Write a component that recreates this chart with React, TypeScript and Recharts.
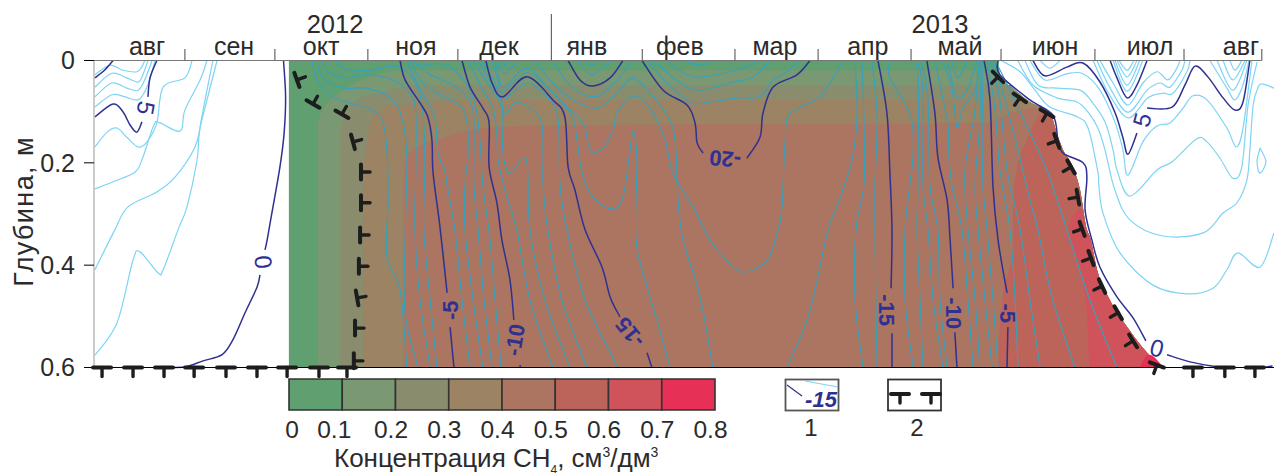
import React from "react";
import {
  Area,
  Bar,
  BarChart,
  ComposedChart,
  Line,
  ReferenceLine,
  Scatter,
  XAxis,
  YAxis,
} from "recharts";

type Pt = [number, number];

// x is days since 1 Aug 2012, y is depth in metres
const monthTicks = [30.5, 60.7, 91.9, 122.1, 153.5, 184, 215.1, 243, 274.2, 304.4, 335.9, 365.8, 391.9];
const monthCenters = [17.8, 47, 76.2, 108, 135.9, 165.4, 196.6, 228.5, 259.7, 290.6, 322.5, 354.4, 384.9];
const monthNames = ["авг", "сен", "окт", "ноя", "дек", "янв", "фев", "мар", "апр", "май", "июн", "июл", "авг"];
const yearCenters = [80.9, 283.9];
const yearNames = ["2012", "2013"];
const depthTicks = [0, 0.2, 0.4, 0.6];
const concTicks = [0, 0.1, 0.2, 0.3, 0.4, 0.5, 0.6, 0.7, 0.8];
const concColors = ["#5f9f70", "#7a9872", "#8a8c6e", "#9b8363", "#ac7561", "#bc6459", "#d0535b", "#e63055"];

// right edge of the frozen layer
const thawEdge: Pt[] = [
  [304, 0.032], [308.4, 0.054], [314.1, 0.081], [320.8, 0.103], [323.1, 0.142], [325.2, 0.175],
  [328.5, 0.208], [330.9, 0.253], [333.2, 0.331], [334.2, 0.345], [336.6, 0.409], [340.9, 0.468],
  [346.7, 0.521], [353.4, 0.571], [358.8, 0.6],
];
const edgeFrom = (day: number) => thawEdge.filter((p) => p[0] >= day);

const band0: Pt[] = [[65.4, 0], [303.4, 0], ...edgeFrom(304)];
const band1: Pt[] = [[75.2, 0.116], [76, 0.105], [83.6, 0.058], [92.6, 0.032], [102.7, 0.019], [303.9, 0.019], ...edgeFrom(304)];
const band2: Pt[] = [[82.6, 0.13], [84.5, 0.105], [90, 0.072], [98, 0.06], [110, 0.048], [307.4, 0.048], ...edgeFrom(308.4)];
const band3: Pt[] = [[90.3, 0.214], [91.3, 0.175], [92.6, 0.126], [95, 0.101], [99.3, 0.089], [107, 0.085], [126.2, 0.077], [313.1, 0.077], ...edgeFrom(314.1)];
const band4: Pt[] = [[103.7, 0.253], [104.4, 0.198], [107, 0.175], [115.1, 0.155], [126.2, 0.136], [143, 0.128], [169.8, 0.126], [299, 0.122], [307.4, 0.103], [314.1, 0.093], ...edgeFrom(320.8)];
const band5: Pt[] = [[303.4, 0.56], [305, 0.462], [308.4, 0.364], [308.6, 0.26], [309.7, 0.214], [313.1, 0.155], [318.5, 0.103], ...edgeFrom(320.8)];
const band6: [number, number, number][] = [
  [327, 0.337, 0.337], [328, 0.31, 0.36], [330.9, 0.29, 0.415], [333.2, 0.331, 0.49], [334.2, 0.345, 0.6],
  [336.6, 0.409, 0.6], [340.9, 0.468, 0.6], [346.7, 0.521, 0.6], [353.4, 0.571, 0.6], [358.8, 0.6, 0.6],
];
const band7: [number, number, number][] = [[350.9, 0.6, 0.6], [354, 0.575, 0.6], [358.8, 0.6, 0.6]];

// thick isotherms, split where a label sits on them
const zeroLeftA: Pt[] = [[63.6, 0], [64.3, 0.071], [63.8, 0.142], [62.4, 0.208], [59.7, 0.298], [58.1, 0.351], [57.4, 0.37]];
const zeroLeftB: Pt[] = [[55.7, 0.419], [54.7, 0.443], [50.7, 0.493], [46.6, 0.546], [43, 0.575], [36.6, 0.587], [31.2, 0.598], [26.5, 0.6]];
const fiveTop: Pt[] = [[0.3, 0.034], [3.7, 0.018], [6.4, 0]];
const fiveLeftA: Pt[] = [[0.3, 0.11], [6.4, 0.085], [9.7, 0.1], [12.1, 0.126], [14.4, 0.14], [16.1, 0.12]];
const fiveLeftB: Pt[] = [[18.1, 0.071], [18.8, 0.034], [21.1, 0]];
const minus5A: Pt[] = [[102.7, 0], [104.4, 0.038], [109.4, 0.083], [112, 0.11], [113.4, 0.155], [113.8, 0.22], [116.1, 0.325], [118.5, 0.454]];
const minus5B: Pt[] = [[119.5, 0.521], [120.8, 0.6]];
const minus10A: Pt[] = [[123.5, 0], [126.2, 0.052], [130.5, 0.093], [132.6, 0.122], [132.6, 0.208], [135.2, 0.278], [136.9, 0.351], [139.6, 0.429], [140.9, 0.507]];
const minus10B: Pt[] = [[143, 0.595], [143, 0.6]];
const minus15A: Pt[] = [[131.5, 0], [133.6, 0.044], [137.2, 0.071], [145.3, 0.032], [154, 0.077], [158, 0.11], [159.1, 0.208], [161.4, 0.253], [164.8, 0.331], [170.5, 0.404], [173.2, 0.462], [176.5, 0.501]];
const minus15B: Pt[] = [[185.6, 0.571], [187.2, 0.6]];
const minus20Top: Pt[] = [[159.1, 0], [163.1, 0.038], [167.4, 0.05], [173.2, 0.034], [177.5, 0]];
const minus20A: Pt[] = [[183.9, 0], [191, 0.058], [199, 0.087], [201.7, 0.122], [202.4, 0.161], [204.4, 0.181]];
const minus20B: Pt[] = [[219.1, 0.191], [223.5, 0.15], [224.5, 0.103], [227.9, 0.052], [235.9, 0.028], [240.3, 0]];
const minus15RA: Pt[] = [[263.1, 0], [266.1, 0.103], [267.1, 0.22], [267.8, 0.331], [267.5, 0.445]];
const minus15RB: Pt[] = [[267.8, 0.533], [267.8, 0.6]];
const minus10RA: Pt[] = [[279.5, 0], [282.2, 0.103], [283.2, 0.189], [286.3, 0.273], [287.3, 0.351], [288.3, 0.445]];
const minus10RB: Pt[] = [[288.9, 0.531], [289.6, 0.6]];
const minus5RA: Pt[] = [[298.7, 0], [300.7, 0.077], [301.7, 0.247], [303.4, 0.351], [306.4, 0.454]];
const minus5RB: Pt[] = [[306.7, 0.521], [306.4, 0.6]];
const zeroRightA: Pt[] = [[303.4, 0], [304, 0.028], [314.1, 0.077], [321.8, 0.107], [323.5, 0.155], [325.2, 0.181], [331.9, 0.2], [333.2, 0.228], [332.6, 0.292], [334.9, 0.351], [337.6, 0.404], [343.3, 0.462], [348.7, 0.503], [353, 0.548]];
const zeroRightB: Pt[] = [[360.1, 0.575], [367.8, 0.589], [376.9, 0.599]];
const zeroRightC: Pt[] = [[392.3, 0.6], [395.5, 0.597]];
const fiveRightA: Pt[] = [[315.1, 0], [319.1, 0.03], [326.5, 0.013], [331.9, 0.005], [337.6, 0.042], [342.6, 0.101], [345.3, 0.151], [347, 0.183], [350, 0.142]];
const fiveRightB: Pt[] = [[353.4, 0.093], [361.8, 0.091], [366.1, 0.048], [369.5, 0.011], [373.8, 0.032], [378.9, 0.073], [382.9, 0.097], [385.6, 0.081], [387.9, 0]];
const tenRight: Pt[] = [[341, 0], [343.3, 0.034], [346.7, 0.073], [350, 0.048], [353.4, 0]];

const darkLines = [
  zeroLeftA, zeroLeftB, fiveTop, fiveLeftA, fiveLeftB, minus5A, minus5B, minus10A, minus10B, minus15A, minus15B,
  minus20Top, minus20A, minus20B, minus15RA, minus15RB, minus10RA, minus10RB, minus5RA, minus5RB,
  zeroRightA, zeroRightB, zeroRightC, fiveRightA, fiveRightB, tenRight,
];

// thin isotherms above zero, left side
const skyLeft: Pt[][] = [
  [[0.3, 0.028], [5.4, 0.009], [9.7, 0.019], [14.4, 0.022], [16.1, 0.012], [17, 0]],
  [[0.3, 0.052], [6, 0.025], [11, 0.034], [14.8, 0.042], [16.4, 0.028], [18.1, 0]],
  [[0.3, 0.071], [6, 0.044], [11, 0.054], [14.8, 0.058], [17, 0.038], [19.5, 0]],
  [[0.3, 0.091], [6, 0.067], [10.4, 0.071], [14.8, 0.077], [17.8, 0.052], [20.5, 0]],
  [[0.3, 0.169], [4.4, 0.14], [7.7, 0.132], [11, 0.15], [14.8, 0.169], [17.8, 0.159], [21.1, 0.122], [23.2, 0.052], [30.5, 0.034], [32.9, 0]],
  [[0.3, 0.251], [6.4, 0.237], [13.8, 0.218], [16.4, 0.189], [20.1, 0.126], [22.1, 0.122], [28.9, 0.138], [30.5, 0.097], [35.6, 0.038], [37.9, 0]],
  [[0.3, 0.409], [7, 0.331], [11.4, 0.286], [21.1, 0.257], [27.2, 0.228], [33.9, 0.169], [36.2, 0.116], [41.3, 0]],
  [[0.3, 0.576], [7.7, 0.513], [13.1, 0.39], [15.4, 0.374], [21.5, 0.415], [23.2, 0.409], [28.2, 0.331], [31.2, 0.286], [34.6, 0.194], [35.6, 0.13], [39.9, 0]],
];

// thin isotherms above zero, right side
const skyRight: Pt[][] = [
  [[304.7, 0.001], [310.8, 0.022], [315.8, 0.058], [320.8, 0.091], [329.9, 0.11], [333.6, 0.132], [336.9, 0.218], [337.2, 0.243], [338.6, 0.298], [344.3, 0.376], [355.4, 0.439], [366.8, 0.456], [375.5, 0.445], [380.2, 0.409], [383.9, 0.376], [391.3, 0.404], [396, 0.337]],
  [[310, 0], [315.1, 0.048], [323.2, 0.073], [329.9, 0.081], [333.6, 0.101], [336.9, 0.132], [339.3, 0.175], [342.6, 0.253], [347.7, 0.312], [358.7, 0.343], [372.2, 0.337], [378.9, 0.298], [383.6, 0.278], [386.9, 0.234], [387.9, 0.175], [389, 0.087], [390.7, 0.052], [392.3, 0.046], [396, 0.054]],
  [[312.4, 0], [316.8, 0.048], [323.2, 0.054], [330.9, 0.058], [334.9, 0.081], [339.3, 0.12], [342, 0.175], [343.3, 0.214], [347.7, 0.265], [356.7, 0.214], [361.8, 0.198], [370.1, 0.153], [373.5, 0.159], [377.9, 0.191], [382.2, 0.23], [385.2, 0.208], [387.3, 0.087], [390.3, 0.003]],
  [[314.1, 0], [319.1, 0.038], [326.5, 0.026], [331.9, 0.026], [337.6, 0.058], [342.6, 0.12], [345.3, 0.175], [347, 0.224], [352, 0.159], [356.7, 0.128], [361.1, 0.122], [365.5, 0.093], [368.8, 0.069], [373.5, 0.077], [380.2, 0.132], [383.3, 0.169], [385.6, 0.132], [388.6, 0]],
  [[344, 0], [346.7, 0.019], [349, 0]],
  [[343.3, 0], [346.7, 0.032], [350, 0]],
  [[342.6, 0], [346.7, 0.048], [350.9, 0]],
  [[342, 0], [346.7, 0.06], [352, 0]],
  [[337.6, 0], [342, 0.044], [347, 0.087], [352, 0.044], [356.7, 0.022], [360.4, 0.038], [363.4, 0.015], [364.4, 0]],
  [[336.6, 0], [341, 0.054], [347, 0.101], [353.4, 0.058], [357.7, 0.044], [361.1, 0.052], [365.1, 0.019], [366.1, 0]],
  [[335.3, 0], [340.3, 0.062], [347, 0.112], [353.7, 0.073], [358.7, 0.064], [362.1, 0.064], [366.8, 0.022], [367.8, 0]],
  [[381.2, 0], [382.9, 0.019], [385.2, 0]],
  [[378.9, 0], [382.2, 0.038], [386.3, 0]],
  [[376.9, 0], [382.2, 0.058], [386.9, 0]],
  [[374.5, 0], [380.2, 0.054], [382.9, 0.077], [385.6, 0.048], [387.6, 0]],
  [[317.5, 0], [320.8, 0.015], [324.2, 0]],
  [[391.3, 0.171], [393.3, 0.198], [391.3, 0.22], [390.3, 0.198], [391.3, 0.171]],
];

// thin isotherms below zero, inside the frozen layer
const tealLines: Pt[][] = [
  [[73.2, 0], [74.8, 0.038], [80.2, 0.071], [85.9, 0.083], [93.6, 0.097], [97, 0.122], [98.3, 0.175], [98.7, 0.273], [98.3, 0.384], [102.7, 0.448], [105, 0.6]],
  [[74.8, 0], [76.5, 0.032], [83.6, 0.054], [91.6, 0.054], [100.3, 0.077], [103.7, 0.122], [105, 0.194], [104.4, 0.351], [104.4, 0.493], [108.7, 0.6]],
  [[76.5, 0], [78.5, 0.022], [84.9, 0.034], [91.6, 0.028], [100.3, 0.038], [106, 0.064], [108, 0.103], [108, 0.214], [107.7, 0.331], [109.4, 0.468], [112.8, 0.6]],
  [[80.9, 0], [83.6, 0.015], [91.6, 0.019], [101, 0.011], [106, 0.028], [109.4, 0.067], [110.7, 0.126], [111, 0.214], [110.7, 0.331], [112.8, 0.468], [115.1, 0.6]],
  [[105, 0], [107, 0.028], [111, 0.073], [114.4, 0.112], [115.4, 0.179], [117.8, 0.218], [118.5, 0.243], [121.1, 0.331], [123.5, 0.468], [126.2, 0.6]],
  [[106, 0], [110, 0.042], [116.1, 0.067], [122.8, 0.087], [125.2, 0.12], [125.5, 0.185], [124.5, 0.243], [124.5, 0.331], [127.2, 0.468], [130.5, 0.6]],
  [[107, 0], [111.7, 0.024], [121.8, 0.052], [126.2, 0.081], [127.5, 0.12], [127.5, 0.243], [128.9, 0.331], [130.9, 0.468], [133.6, 0.6]],
  [[108.7, 0], [109.4, 0.009], [117.1, 0.007], [123.5, 0.034], [127.9, 0.087], [129.5, 0.155], [130.5, 0.243], [132.9, 0.351], [134.6, 0.468], [136.6, 0.6]],
  [[125.5, 0], [130.5, 0.058], [133.9, 0.093], [135.2, 0.146], [135.6, 0.194], [137.9, 0.253], [141.9, 0.331], [146.3, 0.468], [154, 0.6]],
  [[127.2, 0], [132.9, 0.052], [136.9, 0.083], [137.2, 0.179], [138.6, 0.214], [140.3, 0.218], [144.6, 0.189], [145.6, 0.224], [146.3, 0.331], [151.3, 0.468], [159.7, 0.6]],
  [[128.9, 0], [133.6, 0.048], [137.9, 0.101], [141.9, 0.081], [149.7, 0.112], [150.7, 0.179], [150.7, 0.243], [152.3, 0.331], [157, 0.468], [165.4, 0.6]],
  [[130.2, 0], [134.6, 0.044], [137.2, 0.077], [145.3, 0.044], [152, 0.071], [155.7, 0.112], [156.4, 0.243], [158.7, 0.331], [164.8, 0.468], [175.8, 0.6]],
  [[133.6, 0], [135.6, 0.038], [137.2, 0.062], [145.3, 0.024], [154, 0.064], [160.4, 0.11], [162.1, 0.155], [163.8, 0.22], [167.4, 0.267], [173.8, 0.29], [177.5, 0.267], [179.9, 0.175], [180.9, 0.138], [182.2, 0.194], [181.9, 0.351], [185.6, 0.443], [189.9, 0.527], [193.3, 0.6]],
  [[134.6, 0], [136.2, 0.042], [137.9, 0.052], [145.3, 0.015], [153, 0.058], [157.4, 0.083], [164.1, 0.122], [165.8, 0.161], [167.4, 0.179], [170.8, 0.171], [174.2, 0.136], [175.5, 0.103], [180.9, 0.069], [186.6, 0.093], [191.6, 0.155], [194.3, 0.22], [201, 0.286], [206.7, 0.351], [210, 0.376], [217.5, 0.413], [225.9, 0.39], [229.5, 0.331], [230.9, 0.286], [231.9, 0.161], [233.6, 0.103], [243.6, 0.071], [251.4, 0]],
  [[148, 0], [154, 0.044], [160.8, 0.077], [168.8, 0.093], [175.5, 0.064], [180.9, 0.034], [187.6, 0.071], [192.3, 0.107], [195, 0.155], [196, 0.273], [197.7, 0.351], [203.4, 0.462], [207.7, 0.6]],
  [[153.7, 0], [159.7, 0.048], [167.4, 0.071], [173.2, 0.052], [178.9, 0.015], [180.6, 0]],
  [[136.2, 0], [137.9, 0.009], [139.9, 0]],
  [[135.2, 0], [137.9, 0.026], [142, 0]],
  [[162.1, 0], [167.1, 0.028], [173.2, 0]],
  [[164.1, 0], [167.1, 0.009], [169.8, 0]],
  [[185.6, 0], [192.3, 0.044], [200, 0.081], [204.4, 0.083], [215.8, 0.073], [223.5, 0.071], [227.9, 0.038], [232.6, 0.022], [236.9, 0]],
  [[187.6, 0], [196.7, 0.044], [203.4, 0.058], [214.4, 0.042], [221.2, 0.032], [226.9, 0]],
  [[192.3, 0], [199, 0.028], [204.4, 0.032], [213.4, 0.022], [220.2, 0.009], [222.5, 0]],
  [[197.7, 0], [203.4, 0.009], [207.7, 0]],
  [[255.4, 0], [256.1, 0.107], [254.4, 0.194], [250.4, 0.267], [246.4, 0.331], [242.7, 0.429], [239.3, 0.507], [232.6, 0.6]],
  [[257.7, 0], [258.4, 0.116], [258.4, 0.243], [255.7, 0.331], [255.4, 0.468], [258.1, 0.6]],
  [[261, 0], [262.8, 0.107], [262.1, 0.243], [262.1, 0.331], [262.4, 0.468], [262.8, 0.6]],
  [[266.5, 0], [267.1, 0.034], [271.5, 0.077], [274.5, 0.12], [274.9, 0.185], [273.8, 0.243], [272.2, 0.331], [272.2, 0.468], [274.9, 0.6]],
  [[273.8, 0], [276.5, 0.028], [276.5, 0.243], [276.2, 0.331], [277.2, 0.468], [278.2, 0.6]],
  [[276.2, 0], [278.2, 0.058], [278.2, 0.243], [279.9, 0.331], [281.6, 0.468], [284.9, 0.6]],
  [[277.5, 0], [279.9, 0.077], [280.5, 0.243], [283.2, 0.331], [283.9, 0.468], [286.3, 0.6]],
  [[282.2, 0], [284.6, 0.067], [286.6, 0.126], [286.9, 0.185], [287.9, 0.243], [291.3, 0.331], [293.3, 0.468], [295, 0.6]],
  [[284.6, 0], [287.9, 0.054], [289.6, 0.13], [291.6, 0.093], [295.7, 0.058], [297.3, 0]],
  [[286.3, 0], [289.6, 0.071], [293.3, 0.054], [296.3, 0]],
  [[287.9, 0], [289.6, 0.034], [291.3, 0.022], [293.3, 0]],
  [[296.7, 0], [295.7, 0.097], [292.3, 0.214], [293.3, 0.331], [295.7, 0.468], [297.3, 0.6]],
  [[297.3, 0], [297.3, 0.116], [295.7, 0.243], [296.7, 0.331], [299, 0.468], [301.4, 0.6]],
  [[298, 0], [298.3, 0.136], [298.3, 0.243], [299.7, 0.331], [301.7, 0.468], [303.4, 0.6]],
  [[299.7, 0], [302.4, 0.097], [304, 0.214], [307.4, 0.331], [309.1, 0.468], [310.1, 0.6]],
  [[300.7, 0], [304, 0.077], [306.4, 0.214], [310.8, 0.331], [314.1, 0.468], [317.5, 0.6]],
  [[301.7, 0], [305.7, 0.077], [310.1, 0.175], [314.1, 0.273], [316.8, 0.331], [321.5, 0.462], [329.2, 0.6]],
  [[302.4, 0], [307.4, 0.058], [314.1, 0.142], [319.8, 0.214], [326.5, 0.331], [334.2, 0.468], [343.3, 0.6]],
];

const contourLabels = [
  { x: 17.4, y: 0.093, text: "5", angle: 100 },
  { x: 56.7, y: 0.394, text: "0", angle: -95 },
  { x: 119.5, y: 0.488, text: "-5", angle: -90 },
  { x: 141.3, y: 0.546, text: "-10", angle: -80 },
  { x: 179.9, y: 0.531, text: "-15", angle: -129 },
  { x: 211.8, y: 0.192, text: "-20", angle: 185 },
  { x: 266.1, y: 0.488, text: "-15", angle: 90 },
  { x: 288.3, y: 0.494, text: "-10", angle: 90 },
  { x: 306.4, y: 0.494, text: "-5", angle: 90 },
  { x: 356.7, y: 0.562, text: "0", angle: 15 },
  { x: 351.7, y: 0.116, text: "5", angle: -75 },
];

// frozen layer boundary marks
const frontBottom = [2.7, 13.1, 23.5, 33.6, 44.3, 54.7, 64.8, 75.5, 84.9, 368.8, 379.5, 389.6];
const frontLeft: [number, number, number][] = [
  [68.1, 0.038, -110], [73.5, 0.085, -150], [83.2, 0.105, -150], [86.9, 0.159, -105], [89.6, 0.218, -90],
  [89.6, 0.278, -90], [89.3, 0.341, -90], [88.9, 0.402, -90], [88.3, 0.464, -100], [87.6, 0.523, -90], [87.2, 0.587, -90],
];
const frontRight: [number, number, number][] = [
  [303.4, 0.032, 45], [310.7, 0.073, 35], [319.8, 0.103, 30], [323.1, 0.157, 70], [327.9, 0.208, 60], [330.2, 0.267, 80],
  [331.6, 0.329, 70], [334.6, 0.386, 70], [338.3, 0.441, 65], [343.7, 0.493, 60], [348.7, 0.548, 58], [356.7, 0.595, 20],
];
const frontMarks = [
  ...frontBottom.map((x) => ({ x, y: 0.6, angle: 0, size: 18 })),
  ...frontLeft.map(([x, y, angle]) => ({ x, y, angle, size: 15 })),
  ...frontRight.map(([x, y, angle]) => ({ x, y, angle, size: 15 })),
];

const FONT = '"Liberation Sans", Arial, sans-serif';
const TEXT = "#2b2b2b";
const NAVY = "#2e3192";
const toPoints = (pts: Pt[]) => pts.map(([x, y]) => ({ x, y }));

// catmull-rom through the read points, contours double back so monotone is no use
const smooth = (ctx: any) => {
  let p: number[][] = [];
  return {
    areaStart() {},
    areaEnd() {},
    lineStart() {
      p = [];
    },
    point(x: number, y: number) {
      p.push([+x, +y]);
    },
    lineEnd() {
      if (!p.length) return;
      ctx.moveTo(p[0][0], p[0][1]);
      for (let i = 0; i < p.length - 1; i++) {
        const a = p[Math.max(i - 1, 0)];
        const b = p[i];
        const c = p[i + 1];
        const d = p[Math.min(i + 2, p.length - 1)];
        ctx.bezierCurveTo(
          b[0] + (c[0] - a[0]) / 6,
          b[1] + (c[1] - a[1]) / 6,
          c[0] - (d[0] - b[0]) / 6,
          c[1] - (d[1] - b[1]) / 6,
          c[0],
          c[1],
        );
      }
    },
  };
};

function TimeTick({ x, payload }: any) {
  const v = payload.value;
  const month = monthCenters.indexOf(v);
  const year = yearCenters.indexOf(v);
  if (month >= 0) {
    return (
      <text x={x} y={55} textAnchor="middle" fontSize={25} fontFamily={FONT} fill={TEXT}>
        {monthNames[month]}
      </text>
    );
  }
  if (year >= 0) {
    return (
      <text x={x} y={33} textAnchor="middle" fontSize={25.5} fontFamily={FONT} fill={TEXT}>
        {yearNames[year]}
      </text>
    );
  }
  return <line x1={x} x2={x} y1={v === 153.5 ? 14 : 49} y2={60.5} stroke="#666" strokeWidth={1.2} />;
}

function FrontMark({ cx, cy, payload }: any) {
  const s = payload.size / 2;
  return (
    <g transform={`rotate(${payload.angle} ${cx} ${cy})`} stroke="#1d1d1d" strokeLinecap="round">
      <line x1={cx - s} x2={cx + s} y1={cy} y2={cy} strokeWidth={4} />
      <line x1={cx} x2={cx} y1={cy} y2={cy + 9} strokeWidth={3.4} />
    </g>
  );
}

function ContourLabel({ cx, cy, payload }: any) {
  const negative = payload.text.startsWith("-");
  return (
    <text
      x={cx}
      y={cy}
      transform={`rotate(${payload.angle} ${cx} ${cy})`}
      textAnchor="middle"
      dominantBaseline="central"
      fontSize={negative ? 22 : 24}
      fontWeight={negative ? "bold" : "normal"}
      fontFamily={FONT}
      fill={NAVY}
    >
      {payload.text}
    </text>
  );
}

function ConcTick({ x, y, payload }: any) {
  const v = payload.value;
  const dx = v === 0 ? 3 : v === 0.1 ? -8 : -4.5;
  return (
    <text x={x + dx} y={y + 20} textAnchor="middle" fontSize={24.5} fontFamily={FONT} fill={TEXT}>
      {v}
    </text>
  );
}

const bandAreas: Pt[][] = [band0, band1, band2, band3, band4, band5];
const concRow = [Object.fromEntries(concColors.map((_, i) => [`c${i}`, 0.1]))];
const absText = (left: number, top: number): React.CSSProperties => ({
  position: "absolute",
  left,
  top,
  fontFamily: FONT,
  color: TEXT,
  whiteSpace: "nowrap",
});

export default function App() {
  return (
    <div style={{ position: "absolute", left: 0, top: 0, width: 1274, height: 473, background: "#fff", overflow: "hidden" }}>
      <ComposedChart
        width={1274}
        height={473}
        margin={{ top: 59.5, right: 0, bottom: 105.5, left: 0 }}
      >
        <XAxis
          dataKey="x"
          type="number"
          orientation="top"
          domain={[0, 396]}
          ticks={[...monthTicks, ...monthCenters, ...yearCenters]}
          interval={0}
          height={1}
          axisLine={false}
          tickLine={false}
          tick={TimeTick}
        />
        <YAxis
          dataKey="y"
          type="number"
          reversed
          domain={[0, 0.6]}
          ticks={depthTicks}
          width={94}
          tickSize={10}
          tickMargin={9}
          axisLine={{ stroke: "#999" }}
          tickLine={{ stroke: "#000" }}
          tick={{ fontSize: 25, fontFamily: FONT, fill: TEXT }}
        />

        {bandAreas.map((band, i) => (
          <Area
            key={`band${i}`}
            data={band.map(([x, top]) => ({ x, range: [top, 0.6] }))}
            dataKey="range"
            type="monotone"
            stroke="none"
            fill={concColors[i]}
            fillOpacity={1}
            dot={false}
            activeDot={false}
            isAnimationActive={false}
          />
        ))}
        {[band6, band7].map((band, i) => (
          <Area
            key={`core${i}`}
            data={band.map(([x, top, bottom]) => ({ x, range: [top, bottom] }))}
            dataKey="range"
            type="monotone"
            stroke="none"
            fill={concColors[i + 6]}
            fillOpacity={1}
            dot={false}
            activeDot={false}
            isAnimationActive={false}
          />
        ))}

        {[...skyLeft, ...skyRight].map((pts, i) => (
          <Line key={`sky${i}`} data={toPoints(pts)} dataKey="y" type={smooth as any} stroke="#7dd4f5" strokeWidth={1.2} dot={false} activeDot={false} isAnimationActive={false} />
        ))}
        {tealLines.map((pts, i) => (
          <Line key={`teal${i}`} data={toPoints(pts)} dataKey="y" type={smooth as any} stroke="#35a2bd" strokeWidth={1.1} dot={false} activeDot={false} isAnimationActive={false} />
        ))}
        {darkLines.map((pts, i) => (
          <Line key={`dark${i}`} data={toPoints(pts)} dataKey="y" type={smooth as any} stroke={NAVY} strokeWidth={1.5} dot={false} activeDot={false} isAnimationActive={false} />
        ))}

        <ReferenceLine segment={[{ x: 0, y: 0 }, { x: 391.9, y: 0 }]} stroke="#777" strokeWidth={1.2} />
        <ReferenceLine y={0.6} stroke="#000" strokeWidth={1.2} />
        <Scatter data={frontMarks} dataKey="y" shape={FrontMark} isAnimationActive={false} />
        <Scatter data={contourLabels} dataKey="y" shape={ContourLabel} isAnimationActive={false} />
      </ComposedChart>

      <div style={{ ...absText(-66, 196), fontSize: 27, letterSpacing: 1.4, width: 180, transform: "rotate(-90deg)", textAlign: "center" }}>
        Глубина, м
      </div>

      <div style={{ position: "absolute", left: 268, top: 378 }}>
        <BarChart
          width={478}
          height={72}
          data={concRow}
          layout="vertical"
          barCategoryGap={0}
          margin={{ top: 1, right: 31, bottom: 0, left: 21 }}
        >
          <XAxis
            type="number"
            domain={[0, 0.8]}
            ticks={concTicks}
            interval={0}
            height={40}
            axisLine={false}
            tickLine={false}
            tick={ConcTick}
          />
          <YAxis type="category" hide />
          {concColors.map((c, i) => (
            <Bar key={c} dataKey={`c${i}`} stackId="conc" fill={c} stroke="#333" strokeWidth={1.6} isAnimationActive={false} />
          ))}
        </BarChart>
      </div>

      <div style={{ ...absText(334, 445), fontSize: 26, lineHeight: "26px" }}>
        Концентрация СН
        <span style={{ fontSize: 12, position: "relative", top: 7, lineHeight: 0 }}>4</span>, см
        <span style={{ fontSize: 14, position: "relative", top: -10, lineHeight: 0 }}>3</span>/дм
        <span style={{ fontSize: 14, position: "relative", top: -10, lineHeight: 0 }}>3</span>
      </div>

      <svg width={180} height={70} style={{ position: "absolute", left: 775, top: 372 }}>
        <rect x={10.5} y={7.5} width={53} height={31} fill="#fff" stroke="#555" strokeWidth={1.8} />
        <line x1={12} y1={13} x2={27} y2={24} stroke={NAVY} strokeWidth={1.2} />
        <line x1={30} y1={9} x2={63} y2={15} stroke="#7dd4f5" strokeWidth={1.2} />
        <text x={46} y={35} textAnchor="middle" fontSize={22} fontWeight="bold" fontStyle="italic" fontFamily={FONT} fill={NAVY}>
          -15
        </text>
        <text x={36} y={64} textAnchor="middle" fontSize={24} fontFamily={FONT} fill={TEXT}>
          1
        </text>
        <rect x={113} y={7.5} width={53} height={31} fill="#fff" stroke="#333" strokeWidth={1.8} />
        <FrontMark cx={125} cy={22} payload={{ size: 18, angle: 0 }} />
        <FrontMark cx={156} cy={22} payload={{ size: 18, angle: 0 }} />
        <text x={142} y={64} textAnchor="middle" fontSize={24} fontFamily={FONT} fill={TEXT}>
          2
        </text>
      </svg>
    </div>
  );
}
